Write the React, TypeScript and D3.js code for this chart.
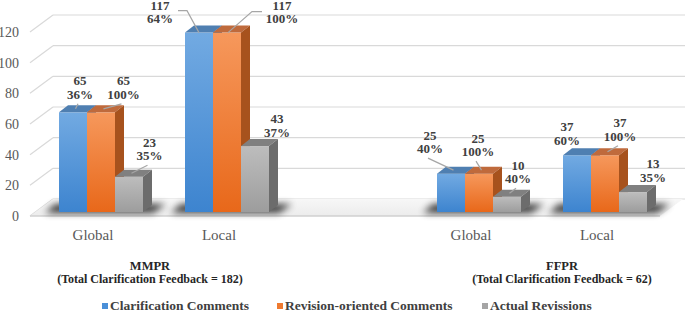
import React from "react";
import * as d3 from "d3";

// ---------- data ----------
const categories = ["Global", "Local", "", "Global", "Local"];
const clarification = [65, 117, null, 25, 37];
const revision = [65, 117, null, 25, 37];
const actual = [23, 43, null, 10, 13];
const clarPct = ["36%", "64%", "", "40%", "60%"];
const revPct = ["100%", "100%", "", "100%", "100%"];
const actPct = ["35%", "37%", "", "40%", "35%"];
const groupNames = ["MMPR", "FFPR"];
const groupTotals = [182, 62];
const groupCats = [[0, 1], [3, 4]];
const yTicks = [0, 20, 40, 60, 80, 100, 120];
const seriesNames = ["Clarification Comments", "Revision-oriented Comments", "Actual Revissions"];

// ---------- layout / style ----------
const W = 685, H = 312;
const FONT = "'Liberation Serif', 'Times New Roman', serif";
const colors = [
  { top: "#4f7fb1", light: "#72aae2", dark: "#3d84cf", side: "#3a6b9e", legend: "#4a8fd8" },
  { top: "#bf6a3c", light: "#f6985c", dark: "#e8681a", side: "#a7521d", legend: "#ef7a30" },
  { top: "#808080", light: "#bdbdbd", dark: "#9d9d9d", side: "#6c6c6c", legend: "#a5a5a5" },
];
// label offsets (dx, dy) from bar top-front centre, and leader style
const labelOffsets = [
  [[7, -27], [-39, -23], null, [-21, -34], [-10, -24]],
  [[22.5, -27], [55, -23], null, [-1, -31], [15, -28]],
  [[20.5, -30], [22, -23], null, [11, -27], [20, -24]],
];
const leaderModes = [
  ["line", "elbowR", "", "line", ""],
  ["line", "elbowL", "", "line", "line"],
  ["line", "", "", "line", ""],
];

export default function App() {
  const x = d3.scaleBand<number>().domain(d3.range(categories.length)).range([38, 668]);
  const h = d3.scaleLinear().domain([0, 120]).range([0, 184]);
  const barW = x.bandwidth() / 4.5;
  const barBase = 212;
  const frontBase = 216;
  const backBase = 199;
  const wallDx = 23;
  const depthX = 9, depthY = -7;
  const series = [clarification, revision, actual];
  const pcts = [clarPct, revPct, actPct];

  const barX = (i: number, s: number) => (x(i) as number) + (x.bandwidth() - 3 * barW) / 2 + s * barW;

  const bars: any[] = [];
  const labels: any[] = [];
  const shadows: any[] = [];

  categories.forEach((c, i) => {
    if (series[0][i] == null) return;
    const gx0 = barX(i, 0);
    const gx1 = barX(i, 3);
    shadows.push(
      <polygon key={"sh" + i}
        points={`${gx0 - 14},${barBase + 1} ${gx1 + 10},${barBase + 1} ${gx1 + depthX + 14},${barBase + depthY - 1} ${gx0 - 4},${barBase + depthY - 1}`}
        fill="#000" opacity={0.75} filter="url(#blur)" />
    );
    series.forEach((vals, s) => {
      const v = vals[i] as number;
      const x0 = barX(i, s);
      const x1 = x0 + barW;
      const yT = barBase - h(v);
      const col = colors[s];
      bars.push(
        <g key={`b${s}-${i}`}>
          <rect x={x0} y={yT} width={barW} height={barBase - yT} fill={`url(#grad${s})`} />
          <polygon points={`${x0},${yT} ${x1},${yT} ${x1 + depthX},${yT + depthY} ${x0 + depthX},${yT + depthY}`} fill={col.top} />
          <polygon points={`${x1},${yT} ${x1 + depthX},${yT + depthY} ${x1 + depthX},${barBase + depthY} ${x1},${barBase}`} fill={col.side} />
        </g>
      );
      const off = labelOffsets[s][i] as number[];
      const cx = x0 + barW / 2;
      const lx = cx + off[0];
      const b1 = yT + off[1];
      const b2 = b1 + 13.5;
      const mode = leaderModes[s][i];
      let path = "";
      const tcx = cx + depthX / 2, tcy = yT + depthY / 2;
      if (mode === "line") path = `M${lx - 2},${b2 + 5}L${tcx - 2},${tcy}`;
      if (mode === "elbowR") path = `M${lx + 18},${b1 + 1}L${lx + 27},${b1 + 1}L${cx},${yT}`;
      if (mode === "elbowL") path = `M${lx - 20},${b1 + 2}L${lx - 30},${b1 + 2}L${cx + 1},${yT}`;
      labels.push(
        <g key={`l${s}-${i}`}>
          {path && <path d={path} stroke="#a6a6a6" strokeWidth={1.2} fill="none" />}
          <text x={lx} y={b1} textAnchor="middle" fontWeight="bold" fontSize={13} fill="#404040">{v}</text>
          <text x={lx} y={b2} textAnchor="middle" fontWeight="bold" fontSize={13} fill="#404040">{pcts[s][i]}</text>
        </g>
      );
    });
  });

  const floorLeftFront = 30;
  const floorRightFront = 660;

  return (
    <svg width={W} height={H} style={{ position: "absolute", left: 0, top: 0, background: "#fff" }} fontFamily={FONT}>
      <defs>
        {colors.map((c, s) => (
          <linearGradient key={s} id={`grad${s}`} x1="0" y1="0" x2="0" y2="1">
            <stop offset="0" stopColor={c.light} />
            <stop offset="1" stopColor={c.dark} />
          </linearGradient>
        ))}
        <filter id="blur" x="-30%" y="-100%" width="160%" height="300%">
          <feGaussianBlur stdDeviation="3.5" />
        </filter>
        <linearGradient id="floorG" x1="0" y1="0" x2="0" y2="1">
          <stop offset="0" stopColor="#f7f7f7" />
          <stop offset="1" stopColor="#ececec" />
        </linearGradient>
      </defs>

      {/* back wall gridlines & side wall diagonals */}
      {yTicks.map((t) => (
        <g key={"g" + t}>
          <line x1={floorLeftFront + wallDx} x2={W} y1={backBase - h(t)} y2={backBase - h(t)} stroke="#d9d9d9" strokeWidth={1.2} />
          <line x1={floorLeftFront} y1={frontBase - h(t)} x2={floorLeftFront + wallDx} y2={backBase - h(t)} stroke="#d9d9d9" strokeWidth={1.2} />
        </g>
      ))}

      {/* floor */}
      <polygon points={`${floorLeftFront},${frontBase} ${floorRightFront},${frontBase} ${floorRightFront + wallDx},${backBase} ${floorLeftFront + wallDx},${backBase}`} fill="url(#floorG)" />
      <line x1={floorLeftFront} x2={floorRightFront} y1={frontBase} y2={frontBase} stroke="#d0d0d0" strokeWidth={1.5} />

      {shadows}
      {bars}
      {labels}

      {/* y tick labels */}
      {yTicks.map((t) => (
        <text key={"t" + t} x={19} y={frontBase - h(t) + 5} textAnchor="end" fontSize={14} fill="#595959">{t}</text>
      ))}

      {/* category labels */}
      {categories.map((c, i) => c ? (
        <text key={"c" + i} x={(x(i) as number) + x.bandwidth() / 2 - 8} y={240} textAnchor="middle" fontSize={15} fill="#595959">{c}</text>
      ) : null)}

      {/* group titles */}
      {groupNames.map((g, gi) => {
        const cs = groupCats[gi];
        const cx = ((x(cs[0]) as number) + (x(cs[1]) as number) + x.bandwidth()) / 2 + (gi === 0 ? -14 : 20);
        return (
          <g key={"gt" + gi}>
            <text x={cx} y={270} textAnchor="middle" fontWeight="bold" fontSize={12.5} fill="#262626">{g}</text>
            <text x={cx} y={283} textAnchor="middle" fontWeight="bold" fontSize={12} fill="#262626">{`(Total Clarification Feedback = ${groupTotals[gi]})`}</text>
          </g>
        );
      })}

      {/* legend */}
      {seriesNames.map((n, s) => {
        const lx = [102, 277, 482][s];
        return (
          <g key={"lg" + s}>
            <rect x={lx} y={303} width={6} height={6} fill={colors[s].legend} />
            <text x={lx + 8} y={310} fontWeight="bold" fontSize={13.5} fill="#404040">{n}</text>
          </g>
        );
      })}
    </svg>
  );
}
